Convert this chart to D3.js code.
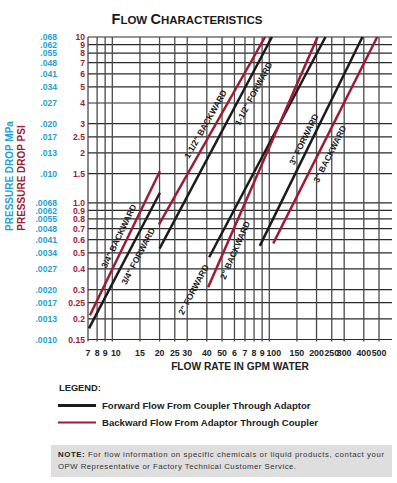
<!DOCTYPE html>
<html><head><meta charset="utf-8">
<script src="https://cdn.jsdelivr.net/npm/d3@7"></script>
<style>
html,body{margin:0;padding:0;background:#fff;}
svg{display:block;font-family:"Liberation Sans",Arial,Helvetica,sans-serif;}
</style></head>
<body>
<script>
// ---- data ----
const flowTicks = [7,8,9,10,15,20,25,30,40,50,60,70,80,90,100,150,200,250,300,400,500];
const flowTickLabels = ['7','8','9','10','15','20','25','30','40','50','6','7','8','9','100','150','200','250','300','400','500'];
const psiTicks = [10,9,8,7,6,5,4,3,2.5,2,1.5,1.0,0.9,0.8,0.7,0.6,0.5,0.4,0.3,0.25,0.2,0.15];
const psiTickLabels = ['10','9','8','7','6','5','4','3','2.5','2','1.5','1.0','0.9','0.8','0.7','0.6','0.5','0.4','0.3','0.25','0.2','0.15'];
const mpaTickLabels = ['.068','.062','.055','.048','.041','.034','.027','.020','.017','.013','.010','.0068','.0062','.0055','.0048','.0041','.0034','.0027','.0020','.0017','.0013','.0010'];

const lineNames = ['3/4" BACKWARD','3/4" FORWARD','1-1/2" BACKWARD','1-1/2" FORWARD','2" FORWARD','2" BACKWARD','3" FORWARD','3" BACKWARD'];
const lineKinds = ['backward','forward','backward','forward','forward','backward','forward','backward'];
const lineFlow = [[7.2,20.1],[7.1,20.1],[19.8,94],[20,104],[41.4,228],[40.8,203],[87,392],[106,487]];
const linePsi  = [[0.21,1.55],[0.175,1.15],[0.74,10],[0.53,10],[0.47,10],[0.31,10],[0.55,10],[0.57,10]];
const labelFlow = [11.0,14.6,39.2,79.3,32.9,60.5,166,243];
const labelPsi  = [0.63,0.477,2.98,4.56,0.30,0.518,2.42,1.97];

const legendLabels = ['Forward Flow From Coupler Through Adaptor','Backward Flow From Adaptor Through Coupler'];
// ---- drawing ----
const W=397,H=483;
const colors = {forward:'#1b1b1b', backward:'#9e1b32'};
const blue='#1f9fcf', red='#9e1b32';

const svg = d3.select('body').append('svg').attr('width',W).attr('height',H);

const x = d3.scaleLog().domain([7,500]).range([88,379]);
const y = d3.scaleLog().domain([0.15,10]).range([339.5,37]);
const gridRight = 392;

// title
const title = svg.append('text').attr('x',187).attr('y',24).attr('text-anchor','middle')
  .attr('font-weight','bold').attr('fill','#1a1a1a');
[['F',14.5],['LOW ',11.5],['C',14.5],['HARACTERISTICS',11.5]].forEach(([t,s])=>{
  title.append('tspan').attr('font-size',s).text(t);
});

// grid horizontals
const g = svg.append('g');
g.selectAll('line.h').data(psiTicks).join('line').attr('class','h')
  .attr('x1',x(7)).attr('x2',gridRight)
  .attr('y1',d=>y(d)).attr('y2',d=>y(d))
  .attr('stroke','#2a2a2a').attr('stroke-width',1.2);
// grid verticals
g.selectAll('line.v').data(flowTicks).join('line').attr('class','v')
  .attr('x1',d=>x(d)).attr('x2',d=>x(d))
  .attr('y1',y(10)).attr('y2',y(0.15)+2)
  .attr('stroke','#4a4a4a').attr('stroke-width',1.3);

// x tick labels (the "10" and "100" sit a little right of their lines, as printed)
svg.append('g').selectAll('text').data(flowTicks).join('text')
  .attr('x',d=>x(d)).attr('y',356).attr('text-anchor','middle')
  .attr('dx',(d,i)=>flowTickLabels[i]==='10'?3.5:(flowTickLabels[i]==='100'?4.5:0))
  .attr('font-size',8.8).attr('font-weight','bold').attr('fill','#222')
  .text((d,i)=>flowTickLabels[i]);
svg.append('text').attr('x',240).attr('y',370).attr('text-anchor','middle')
  .attr('font-size',10.2).attr('font-weight','bold').attr('fill','#222')
  .text('FLOW RATE IN GPM WATER');

// y tick labels
svg.append('g').selectAll('text').data(psiTicks).join('text')
  .attr('x',85).attr('y',d=>y(d)+3.1).attr('text-anchor','end')
  .attr('font-size',8.6).attr('font-weight','bold').attr('fill',red)
  .text((d,i)=>psiTickLabels[i]);
svg.append('g').selectAll('text').data(psiTicks).join('text')
  .attr('x',57).attr('y',d=>y(d)+3.1).attr('text-anchor','end')
  .attr('font-size',8.6).attr('font-weight','bold').attr('fill',blue)
  .text((d,i)=>mpaTickLabels[i]);

// axis titles
svg.append('text').attr('transform','translate(13,176) rotate(-90)').attr('text-anchor','middle')
  .attr('font-size',10).attr('font-weight','bold').attr('fill',blue).text('PRESSURE DROP MPa');
svg.append('text').attr('transform','translate(25,178) rotate(-90)').attr('text-anchor','middle')
  .attr('font-size',10).attr('font-weight','bold').attr('fill',red).text('PRESSURE DROP PSI');

// series lines
const lines = lineNames.map((n,i)=>({name:n,kind:lineKinds[i],
  pts:lineFlow[i].map((f,j)=>[f,linePsi[i][j]]), lf:labelFlow[i], lp:labelPsi[i]}));
const lineGen = d3.line().x(d=>x(d[0])).y(d=>y(d[1]));
svg.append('g').selectAll('path').data(lines).join('path')
  .attr('d',d=>lineGen(d.pts)).attr('fill','none')
  .attr('stroke',d=>colors[d.kind]).attr('stroke-width',2.5);

// line labels
svg.append('g').selectAll('text').data(lines).join('text')
  .attr('transform',d=>{
    const [a,b]=d.pts;
    const ang=Math.atan2(y(b[1])-y(a[1]), x(b[0])-x(a[0]))*180/Math.PI;
    return `translate(${x(d.lf)},${y(d.lp)}) rotate(${ang})`;
  })
  .attr('text-anchor','middle').attr('dy','0.35em')
  .attr('font-size',8.6).attr('font-weight','bold').attr('fill','#1a1a1a')
  .text(d=>d.name);

// legend
svg.append('text').attr('x',59).attr('y',391).attr('font-size',9.3).attr('font-weight','bold')
  .attr('fill','#222').text('LEGEND:');
const leg = svg.append('g').selectAll('g').data(['forward','backward']).join('g')
  .attr('transform',(d,i)=>`translate(0,${405.5+i*17})`);
leg.append('line').attr('x1',58).attr('x2',96).attr('y1',0).attr('y2',0)
  .attr('stroke',d=>colors[d]).attr('stroke-width',d=>d==='forward'?3:2.2);
leg.append('text').attr('x',102).attr('y',3.4).attr('font-size',9.6).attr('font-weight','bold')
  .attr('fill','#222').text((d,i)=>legendLabels[i]);

// note box
svg.append('rect').attr('x',51).attr('y',445).attr('width',341).attr('height',32).attr('fill','#dedede');
const n1 = svg.append('text').attr('x',58).attr('y',457).attr('font-size',7.8).attr('fill','#333')
  .attr('textLength',326).attr('lengthAdjust','spacing');
n1.append('tspan').attr('font-weight','bold').attr('fill','#222').text('NOTE:');
n1.append('tspan').text('  For flow information on specific chemicals or liquid products, contact your');
svg.append('text').attr('x',58).attr('y',468.5).attr('font-size',7.8).attr('fill','#333')
  .attr('textLength',238).attr('lengthAdjust','spacing')
  .text('OPW Representative or Factory Technical Customer Service.');
</script>
</body></html>
